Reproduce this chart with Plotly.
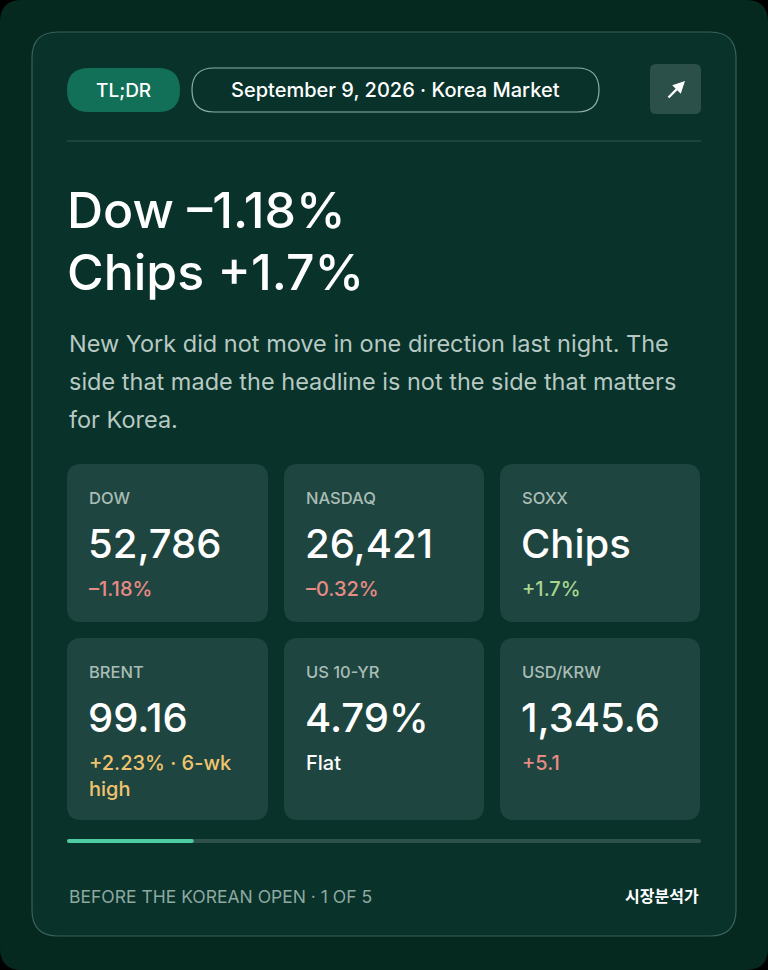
import plotly.graph_objects as go

W, H = 768, 970

# card content
headline = ["Dow \u20131.18%", "Chips +1.7%"]
summary = ["New York did not move in one direction last night. The",
           "side that made the headline is not the side that matters",
           "for Korea."]
tile_labels = ["DOW", "NASDAQ", "SOXX", "BRENT", "US 10-YR", "USD/KRW"]
tile_values = ["52,786", "26,421", "Chips", "99.16", "4.79%", "1,345.6"]
tile_changes = ["\u20131.18%", "\u20130.32%", "+1.7%", "+2.23% \u00b7 6-wk<br>high", "Flat", "+5.1"]
change_colors = ["#e88a86", "#e88a86", "#a9d68f", "#f0c46e", "#ffffff", "#e88a86"]
step, total_steps = 1, 5


def rrect(x0, y0, x1, y1, r):
    return (f"M{x0+r},{y0} L{x1-r},{y0} Q{x1},{y0} {x1},{y0+r} L{x1},{y1-r} "
            f"Q{x1},{y1} {x1-r},{y1} L{x0+r},{y1} Q{x0},{y1} {x0},{y1-r} "
            f"L{x0},{y0+r} Q{x0},{y0} {x0+r},{y0} Z")


shapes = []
ann = []


def box(x0, y0, x1, y1, r, fill, line=None, width=1):
    shapes.append(dict(type="path", path=rrect(x0, y0, x1, y1, r), fillcolor=fill,
                       line=dict(color=line or fill, width=width if line else 0), layer="below"))


def text(x, y, s, size, color, xanchor="left", yanchor="middle", weight=400, family="Inter"):
    ann.append(dict(x=x, y=y, text=s, showarrow=False, xanchor=xanchor, yanchor=yanchor, align="left",
                    font=dict(size=size, color=color, family=family, weight=weight)))


# background + card
box(0, 0, W, H, 22, "#06291f")
box(32, 32, 736, 936, 26, "#08322a", "#3a6158", 1.2)

# header
box(67, 68, 180, 112, 22, "#137058")
text(123.5, 90, "TL;DR", 19, "#ffffff", "center", weight=500)
box(192, 68, 599, 112, 22, "#08322a", "#8fb0a6", 1.2)
text(395.5, 90, "September 9, 2026 \u00b7 Korea Market", 20, "#ffffff", "center", weight=500)
box(650, 64, 701, 114, 6, "#2b4f49")
ann.append(dict(x=685, y=81, ax=667, ay=99, xref="x", yref="y", axref="x", ayref="y", text="",
                showarrow=True, arrowhead=2, arrowsize=1, arrowwidth=2.4, arrowcolor="#ffffff"))
shapes.append(dict(type="line", x0=67, x1=701, y0=141, y1=141, line=dict(color="#33594f", width=1)))

# headline and summary
for i, line in enumerate(headline):
    text(65, 210 + 62 * i, line, 50, "#ffffff", weight=500)
for i, line in enumerate(summary):
    text(67, 343 + 38 * i, line, 23.5, "#b7c9c2")

# tiles
cols = [(67, 268), (284, 484), (500, 700)]
rows = [(464, 622), (638, 820)]
for k, label in enumerate(tile_labels):
    x0, x1 = cols[k % 3]
    y0, y1 = rows[k // 3]
    box(x0, y0, x1, y1, 14, "#1f4540")
    text(x0 + 20, y0 + 34, label, 16.5, "#a9bdb6", weight=500)
    text(x0 + 19, y0 + 79, tile_values[k], 40, "#ffffff", weight=500)
    text(x0 + 20, y0 + 111, tile_changes[k], 20, change_colors[k], yanchor="top", weight=500)

# progress
box(67, 839, 701, 843, 2, "#2e524b")
box(67, 839, 67 + (701 - 67) * step / total_steps, 843, 2, "#4fcca0")
text(67, 896, f"BEFORE THE KOREAN OPEN \u00b7 {step} OF {total_steps}", 17.5, "#8fa8a0")
text(701, 895, "\uc2dc\uc7a5\ubd84\uc11d\uac00", 16, "#ffffff", "right", weight=600,
     family="Noto Sans CJK KR")

fig = go.Figure()
fig.update_layout(
    width=W, height=H, margin=dict(l=0, r=0, t=0, b=0),
    paper_bgcolor="#000000", plot_bgcolor="#000000",
    xaxis=dict(range=[0, W], visible=False, fixedrange=True),
    yaxis=dict(range=[H, 0], visible=False, fixedrange=True),
    shapes=shapes, annotations=ann, showlegend=False,
)
fig.write_html("out.html", config={"displayModeBar": False},
               post_script="document.body.style.margin='0';document.body.style.background='#000';")
